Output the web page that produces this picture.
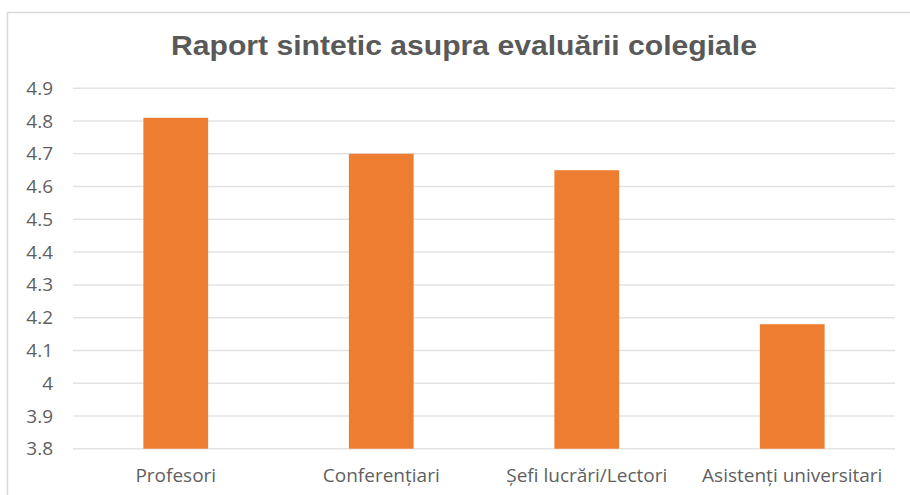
<!DOCTYPE html>
<html>
<head>
<meta charset="utf-8">
<script src="https://cdn.jsdelivr.net/npm/d3@7"></script>
<style>
  body { margin: 0; background: #fff; }
  svg { display: block; }
</style>
</head>
<body>
<div id="chart"></div>
<script>
// Data
var categories = ['Profesori', 'Conferențiari', 'Șefi lucrări/Lectori', 'Asistenți universitari']
var values = [4.81, 4.70, 4.65, 4.18]
var yTicks = [3.8, 3.9, 4.0, 4.1, 4.2, 4.3, 4.4, 4.5, 4.6, 4.7, 4.8, 4.9]
var title = 'Raport sintetic asupra evaluării colegiale'

// Set up margin/height/width
var svgWidth = 910
var svgHeight = 495
var margin = { top: 88.3, left: 73, right: 15, bottom: 495 - 448.7 }
var width = svgWidth - margin.left - margin.right
var height = svgHeight - margin.top - margin.bottom

var svg = d3
  .select('#chart')
  .append('svg')
  .attr('width', svgWidth)
  .attr('height', svgHeight)

// chart area border (right and bottom run off the picture)
svg
  .append('rect')
  .attr('x', 7.5)
  .attr('y', 12.5)
  .attr('width', svgWidth + 20)
  .attr('height', svgHeight + 20)
  .attr('fill', '#fff')
  .attr('stroke', '#d9d9d9')
  .attr('stroke-width', 1.5)

svg
  .append('text')
  .attr('x', 464)
  .attr('y', 55)
  .attr('text-anchor', 'middle')
  .attr('font-family', '"Liberation Sans", Arial, sans-serif')
  .attr('font-weight', 'bold')
  .attr('font-size', 28)
  .attr('fill', '#595959')
  .attr('textLength', 586)
  .attr('lengthAdjust', 'spacingAndGlyphs')
  .text(title)

var g = svg
  .append('g')
  .attr('transform', `translate(${margin.left},${margin.top})`)

// Create your scales
var xPositionScale = d3
  .scaleBand()
  .domain(categories)
  .range([0, width])
  .paddingInner(0.685)
  .paddingOuter(0.3425)

var yPositionScale = d3
  .scaleLinear()
  .domain([3.8, 4.9])
  .range([height, 0])

// gridlines
g.append('g')
  .selectAll('line')
  .data(yTicks)
  .enter()
  .append('line')
  .attr('x1', 0)
  .attr('x2', width)
  .attr('y1', d => yPositionScale(d))
  .attr('y2', d => yPositionScale(d))
  .attr('stroke', '#e3e3e3')
  .attr('stroke-width', 1.5)

// bars
g.append('g')
  .selectAll('rect')
  .data(values)
  .enter()
  .append('rect')
  .attr('x', (d, i) => xPositionScale(categories[i]))
  .attr('width', xPositionScale.bandwidth())
  .attr('y', d => yPositionScale(d))
  .attr('height', d => height - yPositionScale(d))
  .attr('fill', '#ed7d31')

// Add your axes
var yAxis = d3
  .axisLeft(yPositionScale)
  .tickValues(yTicks)
  .tickFormat(d => d3.format('')(+d.toFixed(1)))
  .tickSize(0)
  .tickPadding(20)
g.append('g')
  .attr('class', 'axis y-axis')
  .call(yAxis)

var xAxis = d3
  .axisBottom(xPositionScale)
  .tickSize(0)
  .tickPadding(20)
g.append('g')
  .attr('class', 'axis x-axis')
  .attr('transform', 'translate(0,' + height + ')')
  .call(xAxis)

g.selectAll('.axis .domain').remove()
g.selectAll('.axis text')
  .attr('font-family', '"Open Sans", sans-serif')
  .attr('font-size', 19)
  .attr('fill', '#5f5f5f')
</script>
</body>
</html>
